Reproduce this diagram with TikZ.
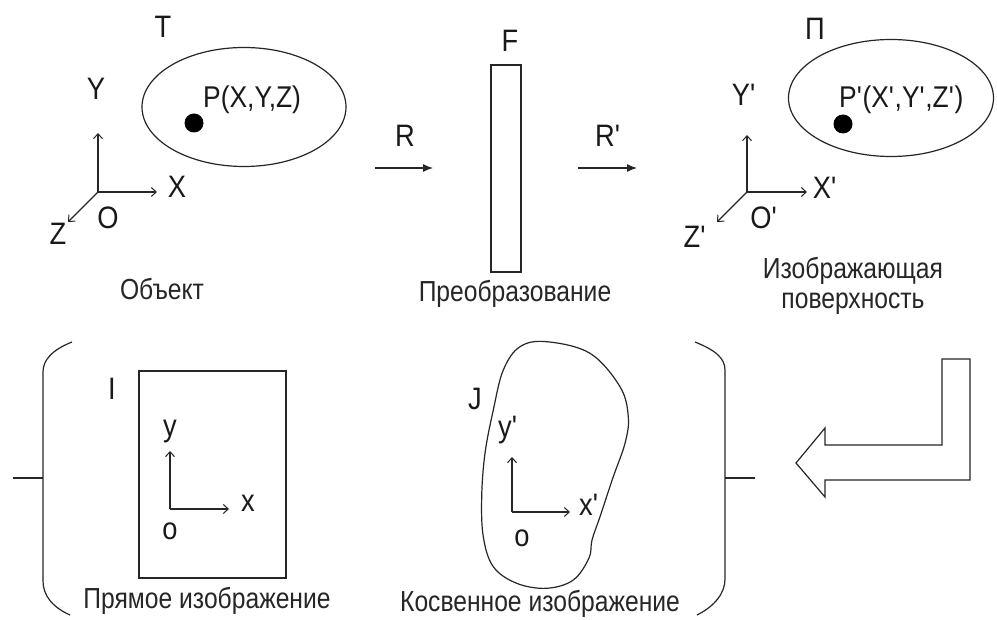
\documentclass[tikz,border=0pt]{standalone}
\usepackage{fontspec}
\setmainfont{Liberation Sans}
\newfontfamily\capfont[FakeStretch=0.85]{Liberation Sans}
\newfontfamily\lblfont[FakeStretch=0.88]{Liberation Sans}
\newcommand{\qs}{\textquotesingle}
\usetikzlibrary{arrows.meta,shapes.geometric}
\tikzset{
  ln/.style={draw=black!85, line width=1.2pt},
  axis/.style={ln, -{Straight Barb[length=5pt,width=9pt,line width=1pt]}},
  rarrow/.style={ln, -{Latex[length=10pt,width=8pt]}},
  lbl/.style={inner sep=0pt, text=black!90, font=\lblfont\fontsize{31}{34}\selectfont},
  plbl/.style={inner sep=0pt, text=black!90, font=\lblfont\fontsize{30}{32}\selectfont, anchor=west},
  captext/.style={inner sep=0pt, text=black!85, font=\capfont\fontsize{29}{30}\selectfont, align=center},
  dotc/.style={circle, fill=black, inner sep=0pt, minimum size=19pt},
  obj/.style={ellipse, ln, inner sep=0pt}
}
\begin{document}
\begin{tikzpicture}[x=1pt,y=-1pt]
\useasboundingbox (0,0) rectangle (997,620);
\fill[white] (0,0) rectangle (997,620);

% ---------- Object ----------
\node[lbl] (T) at (163,27) {T};
\node[obj, minimum width=204pt, minimum height=119pt] (ell1) at (244,107) {};
\node[dotc] (p1) at (194,123) {};
\node[plbl] (P1) at (203,100) {P(X,Y,Z)};
\coordinate (o1) at (98,192);
\coordinate (y1) at (98,133);
\coordinate (x1) at (157,192);
\coordinate (z1) at (68,222);
\draw[axis] (o1) -- (y1);
\draw[axis] (o1) -- (x1);
\draw[axis] (o1) -- (z1);
\node[lbl] (Y1) at (96,89) {Y};
\node[lbl] (X1) at (177,187) {X};
\node[lbl] (O1) at (108,218) {O};
\node[lbl] (Z1) at (58,234) {Z};
\node[captext] (c1) at (162,289) {Объект};

% ---------- Transformation ----------
\node[lbl] (F) at (510,41) {F};
\node[ln, minimum width=30pt, minimum height=207pt, inner sep=0pt] (Fbox) at (506,168.5) {};
\node[lbl] (R) at (405,136) {R};
\coordinate (ra) at (375,168);
\coordinate (rb) at (433,168);
\draw[rarrow] (ra) -- (rb);
\node[lbl] (R2) at (608,136) {R\qs};
\coordinate (rc) at (578,168);
\coordinate (rd) at (637,168);
\draw[rarrow] (rc) -- (rd);
\node[captext] (c2) at (515,294) {Преобразование};

% ---------- Imaging surface ----------
\node[lbl] (Pi) at (815,29) {П};
\node[obj, minimum width=205pt, minimum height=117pt] (ell2) at (891,98) {};
\node[dotc] (p2) at (843,124) {};
\node[plbl] (P2) at (839,100) {P\qs(X\qs,Y\qs,Z\qs)};
\coordinate (o2) at (747,192);
\coordinate (y2) at (747,135);
\coordinate (x2) at (807,192);
\coordinate (z2) at (717,222);
\draw[axis] (o2) -- (y2);
\draw[axis] (o2) -- (x2);
\draw[axis] (o2) -- (z2);
\node[lbl] (Y2) at (744,95) {Y\qs};
\node[lbl] (X2) at (825,188) {X\qs};
\node[lbl] (O2) at (764,218) {O\qs};
\node[lbl] (Z2) at (695,237) {Z\qs};
\node[captext] (c3) at (853,286) {Изображающая\\поверхность};

% ---------- Brackets ----------
\draw[ln] (13,478) -- (43,478);
\draw[ln] (72,342) .. controls (52,350) and (43,360) .. (43,372)
  -- (43,581) .. controls (43,595) and (52,607) .. (70,615);
\draw[ln] (755,478) -- (725,478);
\draw[ln] (695,342) .. controls (715,350) and (725,358) .. (725,370)
  -- (725,579) .. controls (725,593) and (715,606) .. (697,615);

% ---------- Direct image ----------
\node[ln, minimum width=147pt, minimum height=207pt, inner sep=0pt] (Ibox) at (212.5,474.5) {};
\node[lbl] (I) at (112,389) {I};
\coordinate (o3) at (170,509);
\coordinate (y3) at (170,451);
\coordinate (x3) at (229,509);
\draw[axis] (o3) -- (y3);
\draw[axis] (o3) -- (x3);
\node[lbl] (yl3) at (170,432) {y};
\node[lbl] (xl3) at (248,503) {x};
\node[lbl] (ol3) at (170,531) {o};
\node[captext] (c4) at (207,601) {Прямое изображение};

% ---------- Indirect image ----------
\draw[ln] plot[smooth cycle, tension=0.6] coordinates {
  (546.7,341.7) (590,353.3) (620,386.7) (628.3,416.7) (625,443.3)
  (613.3,476.7) (600,516.7) (592,540) (589,558) (573.3,580)
  (546.7,588.3) (516.7,583.3) (493.3,566.7) (483.3,536.7) (481.7,496.7)
  (485,453.3) (493.3,410) (503.3,370) (520,346.7)};
\node[lbl] (J) at (475,399) {J};
\coordinate (o4) at (512,512);
\coordinate (y4) at (512,457);
\coordinate (x4) at (570,512);
\draw[axis] (o4) -- (y4);
\draw[axis] (o4) -- (x4);
\node[lbl] (yl4) at (508,430) {y\qs};
\node[lbl] (xl4) at (589,505) {x\qs};
\node[lbl] (ol4) at (522,538) {o};
\node[captext] (c5) at (540,604) {Косвенное изображение};

% ---------- Big arrow ----------
\draw[ln, line join=miter] (796,463) -- (825,428) -- (825,445) -- (942,445)
  -- (942,359) -- (970,359) -- (970,480) -- (825,480) -- (825,497) -- cycle;
\end{tikzpicture}
\end{document}
